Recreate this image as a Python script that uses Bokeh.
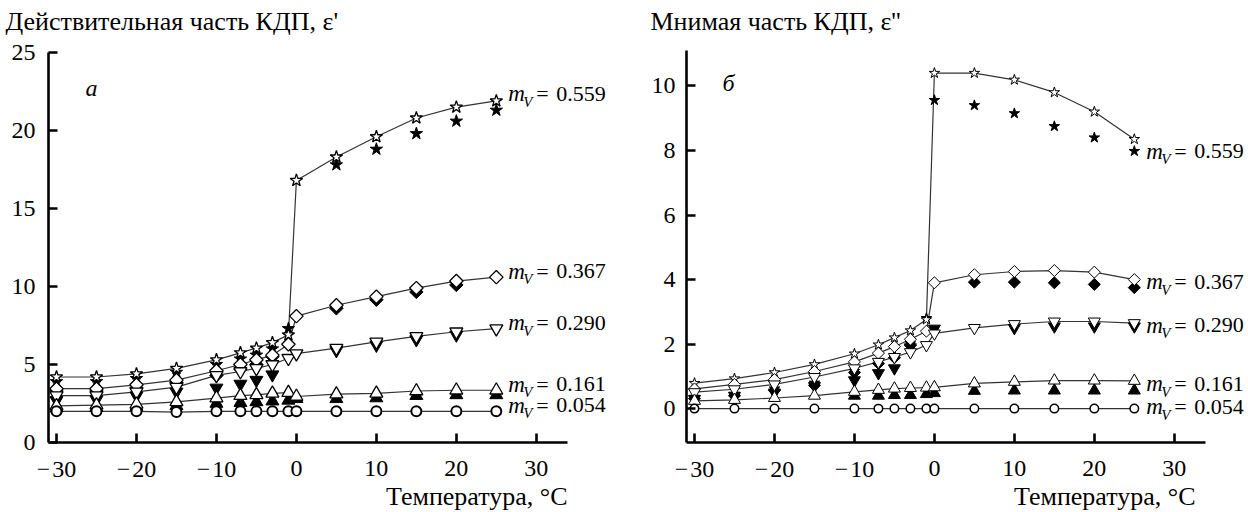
import numpy as np
from bokeh.plotting import figure
from bokeh.models import Range1d, FixedTicker, Label
from bokeh.layouts import row
from bokeh.embed import file_html
from bokeh.resources import INLINE

nan = float("nan")

# ---------------- data ----------------
temperature = [-30, -25, -20, -15, -10, -7, -5, -3, -1, 0, 5, 10, 15, 20, 25]
x_ticks = [-30, -20, -10, 0, 10, 20, 30]
x_tick_labels = ["\u2212\u200a30", "\u2212\u200a20", "\u2212\u200a10", "0", "10", "20", "30"]
re_ticks = [0, 5, 10, 15, 20, 25]
im_ticks = [0, 2, 4, 6, 8, 10]
mv_labels = ["0.559", "0.367", "0.290", "0.161", "0.054"]

# real part (epsilon'): open markers = connected series, filled = second series
re_559_open = [4.2, 4.2, 4.4, 4.75, 5.3, 5.75, 6.05, 6.4, 6.9, 16.8, 18.3, 19.6, 20.8, 21.5, 21.9]
re_559_fill = [3.9, 3.9, 4.1, 4.5, 5.0, 5.35, 5.6, 6.0, 7.3, nan, 17.8, 18.8, 19.8, 20.6, 21.3]
re_367_open = [3.45, 3.45, 3.7, 4.0, 4.6, 5.0, 5.3, 5.6, 6.3, 8.1, 8.8, 9.35, 9.9, 10.35, 10.6]
re_367_fill = [3.3, 3.3, 3.5, 3.85, 4.3, 4.7, 5.0, 5.5, nan, nan, 8.6, 9.15, 9.65, 10.1, nan]
re_290_open = [3.0, 3.0, 3.25, 3.55, 4.3, 4.55, 4.75, 5.0, 5.4, 5.7, 6.05, 6.45, 6.8, 7.1, 7.3]
re_290_fill = [2.7, 2.75, 3.0, 3.25, 3.5, 3.75, 4.0, 4.35, nan, nan, 5.9, 6.25, 6.6, 6.9, nan]
re_161_open = [2.35, 2.4, 2.45, 2.6, 2.85, 3.0, 3.05, 3.15, 3.2, 2.95, 3.1, 3.15, 3.3, 3.35, 3.35]
re_161_fill = [2.2, 2.25, 2.3, 2.35, 2.5, 2.55, 2.6, 2.65, 2.7, 2.8, 2.8, 2.85, 3.0, 3.05, 3.05]
re_054_open = [2.0, 2.0, 2.0, 1.95, 2.0, 2.0, 2.0, 2.0, 2.0, 2.0, 2.0, 2.0, 2.0, 2.0, 2.0]

# imaginary part (epsilon'')
im_559_open = [0.79, 0.93, 1.12, 1.37, 1.7, 1.98, 2.2, 2.42, 2.76, 10.4, 10.4, 10.19, 9.8, 9.2, 8.35]
im_559_fill = [0.36, 0.45, 0.62, 0.8, 1.16, 1.45, 1.65, 2.02, 2.8, 9.56, 9.4, 9.15, 8.75, 8.4, 7.98]
im_367_open = [0.61, 0.75, 0.9, 1.15, 1.45, 1.72, 1.92, 2.15, 2.4, 3.9, 4.15, 4.25, 4.28, 4.23, 4.0]
im_367_fill = [0.31, 0.4, 0.56, 0.72, 1.12, 1.4, 1.58, 1.96, nan, nan, 3.92, 3.92, 3.9, 3.85, 3.75]
im_290_open = [0.51, 0.6, 0.75, 0.98, 1.25, 1.45, 1.6, 1.75, 1.97, 2.33, 2.5, 2.62, 2.7, 2.7, 2.65]
im_290_fill = [0.3, 0.4, 0.5, 0.7, 0.88, 1.1, 1.25, 1.9, nan, 2.48, nan, 2.5, 2.55, 2.55, 2.55]
im_161_open = [0.24, 0.27, 0.33, 0.4, 0.52, 0.58, 0.62, 0.64, 0.65, 0.66, 0.78, 0.83, 0.87, 0.87, 0.86]
im_161_fill = [nan, nan, nan, nan, 0.4, 0.4, 0.42, 0.42, 0.45, 0.48, 0.55, 0.56, 0.56, 0.56, 0.56]
im_054_open = [0.0, 0.0, 0.0, 0.0, 0.0, 0.0, 0.0, 0.0, 0.0, 0.0, 0.0, 0.0, 0.0, 0.0, 0.0]

FONT = "Liberation Serif"
INK = "black"
LINE = "#333333"
W, H = 624, 512
X_LO, X_AXIS_END = -31.0, 33.9
PX_X = 519.0 / (X_AXIS_END - X_LO)      # pixels per degree

MARKERS = [("star", 0.0), ("square", np.pi / 4), ("inverted_triangle", 0.0),
           ("triangle", 0.0), ("circle", 0.0)]


def make_panel(title, letter, y_lo, y_hi, y_ticks, opens, fills, axis_left_px,
               frame_top_px, frame_bottom_px, title_dx, title_dy, letter_dx, letter_dy,
               sizes, ol_width, lab_dy, xlab_dx, ytick_dx):
    # the frame covers the whole canvas; axes are pinned at the data corner
    px_y = (frame_bottom_px - frame_top_px) / (y_hi - y_lo)
    xr = Range1d(X_LO - axis_left_px / PX_X, X_LO + (W - axis_left_px) / PX_X)
    yr = Range1d(y_lo - (H - frame_bottom_px) / px_y, y_hi + frame_top_px / px_y)
    p = figure(width=W, height=H, output_backend="svg", toolbar_location=None,
               x_range=xr, y_range=yr, min_border=0)
    p.xgrid.visible = False
    p.ygrid.visible = False
    p.outline_line_color = None

    p.xaxis.ticker = FixedTicker(ticks=x_ticks)
    p.yaxis.ticker = FixedTicker(ticks=y_ticks)
    p.xaxis.bounds = (X_LO, X_AXIS_END)
    p.yaxis.bounds = (y_lo, y_hi)
    p.xaxis.fixed_location = y_lo
    p.yaxis.fixed_location = X_LO
    p.xaxis.major_label_overrides = {t: "" for t in x_ticks}
    p.yaxis.major_label_overrides = {t: "" for t in y_ticks}
    for ax in (p.xaxis, p.yaxis):
        ax.axis_line_width = 2.6
        ax.axis_line_color = INK
        ax.major_tick_line_width = 2.6
        ax.major_tick_line_color = INK
        ax.major_tick_in = 9
        ax.major_tick_out = 0
        ax.minor_tick_line_color = None

    # tick labels (serif) at the tick positions
    for t, lab in zip(x_ticks, x_tick_labels):
        p.add_layout(Label(x=t, y=y_lo, y_offset=-26, text=lab, text_font=FONT,
                           text_font_size="24px", text_color=INK, text_align="center",
                           text_baseline="middle"))
    for t in y_ticks:
        p.add_layout(Label(x=X_LO, y=t, x_offset=ytick_dx, text=str(t), text_font=FONT,
                           text_font_size="24px", text_color=INK, text_align="right",
                           text_baseline="middle"))

    # connecting lines of the open series
    for ys in opens:
        p.line(temperature, ys, line_color=LINE, line_width=1.2)
    # filled series
    for (mk, ang), ys, sz in zip(MARKERS, fills, sizes):
        if ys is None:
            continue
        p.scatter(temperature, np.array(ys, dtype=float), marker=mk, angle=ang, size=sz,
                  fill_color=INK, line_color=INK, line_width=1.0)
    # open series
    for (mk, ang), ys, sz in zip(MARKERS, opens, sizes):
        lw = ol_width * (1.5 if mk == "circle" else 1.0)
        p.scatter(temperature, ys, marker=mk, angle=ang, size=sz,
                  fill_color="white", line_color=INK, line_width=lw)

    # series labels  m_V = ...
    for ys, lab, dy in zip(opens, mv_labels, lab_dy):
        x_end, y_end = temperature[-1], ys[-1]
        common = dict(x=x_end, y=y_end, text_font=FONT, text_color=INK,
                      text_baseline="middle")
        p.add_layout(Label(text="m", x_offset=12, y_offset=dy, text_font_size="23px",
                           text_font_style="italic", **common))
        p.add_layout(Label(text="V", x_offset=27, y_offset=dy - 8, text_font_size="15px",
                           text_font_style="italic", **common))
        p.add_layout(Label(text="=", x_offset=40, y_offset=dy, text_font_size="22px",
                           **common))
        p.add_layout(Label(text=lab, x_offset=60, y_offset=dy, text_font_size="22px",
                           **common))

    # y-axis title above the axis
    p.add_layout(Label(x=X_LO, y=y_hi, x_offset=title_dx, y_offset=title_dy, text=title,
                       text_font=FONT, text_font_size="26px", text_color=INK,
                       text_baseline="middle"))
    # x-axis title, right aligned under the axis end
    p.add_layout(Label(x=X_AXIS_END, y=y_lo, x_offset=xlab_dx, y_offset=-54,
                       text="Температура, °C", text_font=FONT, text_font_size="26px",
                       text_color=INK, text_align="right", text_baseline="middle"))
    # panel letter
    p.add_layout(Label(x=X_LO, y=y_hi, x_offset=letter_dx, y_offset=letter_dy, text=letter,
                       text_font=FONT, text_font_size="24px", text_font_style="italic",
                       text_color=INK, text_baseline="middle"))
    return p


left = make_panel("Действительная часть КДП, ε'", "а", 0.0, 25.0, re_ticks,
                  [re_559_open, re_367_open, re_290_open, re_161_open, re_054_open],
                  [re_559_fill, re_367_fill, re_290_fill, re_161_fill, None],
                  axis_left_px=48, frame_top_px=52, frame_bottom_px=442,
                  title_dx=-43, title_dy=31, letter_dx=37, letter_dy=-35,
                  sizes=[13, 9.5, 13, 13, 10], ol_width=1.3,
                  lab_dy=[7, 6, 6, 6, 6], xlab_dx=0, ytick_dx=-13)

right = make_panel("Мнимая часть КДП, ε''", "б", -1.05, 11.1, im_ticks,
                   [im_559_open, im_367_open, im_290_open, im_161_open, im_054_open],
                   [im_559_fill, im_367_fill, im_290_fill, im_161_fill, None],
                   axis_left_px=62, frame_top_px=50, frame_bottom_px=442,
                   title_dx=-36, title_dy=29, letter_dx=36, letter_dy=-32,
                   sizes=[11, 8.5, 12, 12, 8.5], ol_width=1.0,
                   lab_dy=[-12, -2, -2, -3, 2], xlab_dx=-10, ytick_dx=-11)

layout = row(left, right)
open("out.html", "w").write(file_html(layout, INLINE))
